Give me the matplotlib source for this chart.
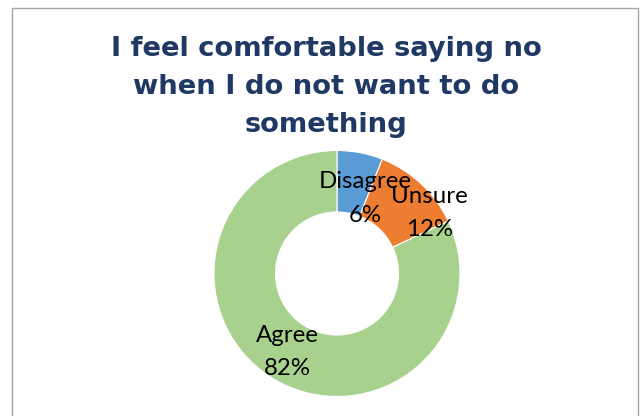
#Imports
import numpy as np
import matplotlib
matplotlib.use("Agg")
import matplotlib.pyplot as plt
from matplotlib.patches import Rectangle

#Setting up the information
categories = ["Disagree", "Unsure", "Agree"]
percents = [6, 12, 82]
colors = ["#5B9BD5", "#ED7D31", "#A9D18E"]
title = "I feel comfortable saying no\nwhen I do not want to do\nsomething"

#label placement (radius and angle shift from wedge middle, degrees)
label_radius = [0.65, 0.90, 0.756]
label_shift = [-9.6, -13.8, 0.4]

fig = plt.figure(figsize=(6.42, 4.16), dpi=100)

#chart border, bottom edge runs off the picture
fig.patches.append(Rectangle((12 / 642, -0.05), 626 / 642, 1.05 - 8 / 416,
                             transform=fig.transFigure, fill=False,
                             edgecolor="#A6A6A6", linewidth=1))

#Title
fig.text(326 / 642, 1 - 36 / 416, title, ha="center", va="top",
         fontsize=19.7, fontweight="bold", color="#203864",
         family="DejaVu Sans", linespacing=1.6)

#Donut
cx, cy, r = 337, 416 - 273.5, 123
ax = fig.add_axes([(cx - r) / 642, (cy - r) / 416, 2 * r / 642, 2 * r / 416])
wedges, _ = ax.pie(percents, colors=colors, startangle=90, counterclock=False,
                   radius=1, wedgeprops=dict(width=0.5, edgecolor="white",
                                             linewidth=0.8))
ax.set_xlim(-1, 1)
ax.set_ylim(-1, 1)
ax.axis("off")

for w, name, p, rr, sh in zip(wedges, categories, percents, label_radius, label_shift):
    ang = np.deg2rad((w.theta1 + w.theta2) / 2 + sh)
    ax.text(rr * np.cos(ang), rr * np.sin(ang), f"{name}\n{p}%",
            ha="center", va="center", fontsize=17.3, family="Lato",
            linespacing=1.72, color="black")

fig.savefig("out.png", dpi=100)
